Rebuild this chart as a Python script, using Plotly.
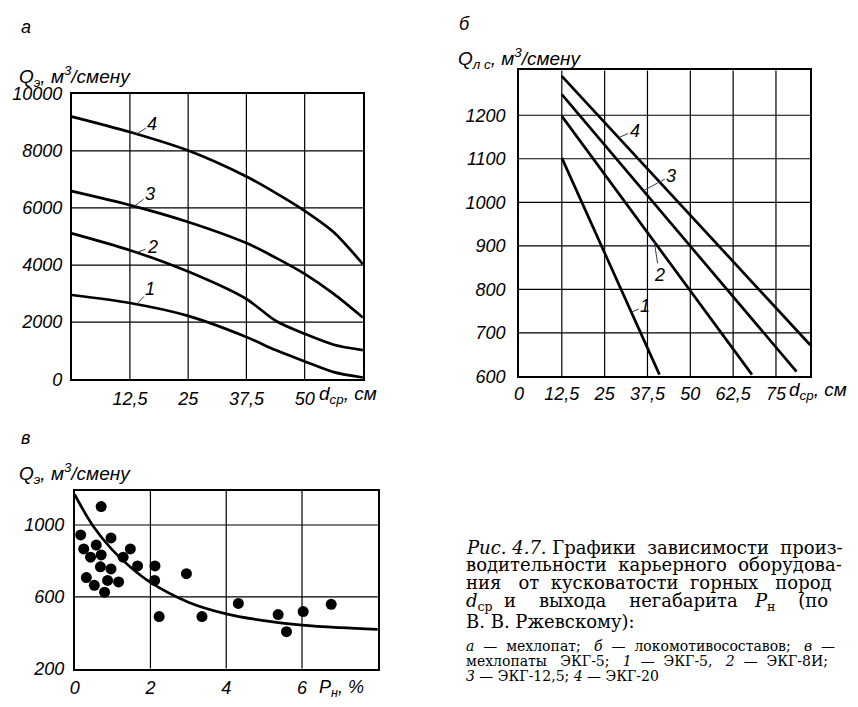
import numpy as np
import plotly.graph_objects as go

# the page adds an 8 px body margin, so the figure is 16 px smaller than the window
OFF = 8
W, H = 858 - 2 * OFF, 707 - 2 * OFF

# --- panel a: excavator output vs mean lump size ---
a_x = [0, 12.5, 25, 37.5, 43.75, 50, 56.25, 62.5]
a_q1 = [2950, 2670, 2220, 1480, 1020, 625, 250, 60]
a_q2 = [5110, 4520, 3770, 2810, 2050, 1590, 1210, 1020]
a_q3 = [6590, 6100, 5510, 4770, 4260, 3690, 2990, 2160]
a_q4 = [9200, 8660, 8010, 7100, 6530, 5900, 5150, 4030]
a_xticks = [12.5, 25, 37.5, 50]
a_xtext = ["12,5", "25", "37,5", "50"]
a_yticks = [0, 2000, 4000, 6000, 8000, 10000]
a_ytext = ["0", "2000", "4000", "6000", "8000", "10000"]

# --- panel b: train output (straight lines) ---
b_x_start = [12.5, 12.5, 12.5, 12.5]
b_x_end = [41.0, 68.0, 81.0, 85.0]
b_q_start = [1102, 1198, 1248, 1290]
b_q_end = [604, 604, 611, 672]
b_xticks = [0, 12.5, 25, 37.5, 50, 62.5, 75]
b_xtext = ["0", "12,5", "25", "37,5", "50", "62,5", "75"]
b_yticks = [600, 700, 800, 900, 1000, 1100, 1200]

# --- panel c: output vs oversize yield ---
c_pts_x = [0.70, 0.16, 0.24, 0.42, 0.57, 0.70, 0.68, 0.96, 0.96, 1.28, 1.47, 1.66,
           0.31, 0.52, 0.79, 0.87, 1.16, 2.12, 2.11, 2.23, 2.95, 3.36, 4.32, 5.37,
           5.59, 6.03, 6.77]
c_pts_q = [1103, 945, 867, 821, 888, 833, 767, 928, 755, 821, 867, 772,
           707, 664, 626, 691, 683, 772, 691, 490, 729, 490, 563, 501,
           406, 518, 558]
c_fit_x = [0, 0.5, 1, 1.5, 2, 3, 4, 5, 6, 7, 8]
c_fit_q = [1170, 990, 860, 760, 680, 570, 505, 467, 442, 428, 419]
c_xticks = [0, 2, 4, 6]
c_yticks = [200, 600, 1000]

SANS = "Liberation Sans"
SERIF = "DejaVu Serif"
tick_font = dict(family=SANS, size=18, style="italic", color="black")


def px(x):
    return (x - OFF) / W


def py(y):
    return 1 - (y - OFF) / H


def axis(**kw):
    base = dict(showline=True, mirror=True, linecolor="black", linewidth=1.5,
                showgrid=False, zeroline=False, ticks="", tickfont=tick_font,
                fixedrange=True)
    base.update(kw)
    return base


fig = go.Figure()
line = dict(color="black", width=2.7)

for q in [a_q1, a_q2, a_q3, a_q4]:
    fig.add_trace(go.Scatter(x=a_x, y=q, mode="lines", line=dict(line, shape="spline", smoothing=0.8),
                             xaxis="x", yaxis="y"))

for x0, x1, q0, q1 in zip(b_x_start, b_x_end, b_q_start, b_q_end):
    fig.add_trace(go.Scatter(x=[x0, x1], y=[q0, q1], mode="lines", line=line,
                             xaxis="x2", yaxis="y2"))

fig.add_trace(go.Scatter(x=c_fit_x, y=c_fit_q, mode="lines", line=dict(line, shape="spline"),
                         xaxis="x3", yaxis="y3"))
fig.add_trace(go.Scatter(x=c_pts_x, y=c_pts_q, mode="markers",
                         marker=dict(color="black", size=11), xaxis="x3", yaxis="y3"))

fig.update_layout(
    width=W, height=H, showlegend=False,
    margin=dict(l=0, r=0, t=0, b=0),
    paper_bgcolor="white", plot_bgcolor="white",
    xaxis=axis(domain=[px(67), px(360)], range=[0, 62.5], tickvals=a_xticks, ticktext=a_xtext,
               anchor="y", ticklabelstandoff=2),
    yaxis=axis(domain=[py(380), py(86)], range=[0, 10000], tickvals=a_yticks, ticktext=a_ytext,
               anchor="x", ticklabelstandoff=4),
    xaxis2=axis(domain=[px(517), px(810)], range=[0, 85], tickvals=b_xticks, ticktext=b_xtext,
                anchor="y2", ticklabelstandoff=0),
    yaxis2=axis(domain=[py(377), py(62)], range=[600, 1303], tickvals=b_yticks, anchor="x2",
                ticklabelstandoff=8),
    xaxis3=axis(domain=[px(70), px(375)], range=[0, 8], tickvals=c_xticks, anchor="y3",
                ticklabelstandoff=2),
    yaxis3=axis(domain=[py(678), py(495)], range=[200, 1190], tickvals=c_yticks, anchor="x3",
                ticklabelstandoff=5),
)

# grid lines drawn on each panel's own axes
shapes = []
grid = dict(color="black", width=1.2)
for xa, ya, xs, ys in [("x", "y", a_xticks, a_yticks[1:-1]),
                       ("x2", "y2", b_xticks[1:], b_yticks[1:]),
                       ("x3", "y3", c_xticks[1:], c_yticks[1:])]:
    for v in xs:
        shapes.append(dict(type="line", xref=xa, yref=ya + " domain", x0=v, x1=v, y0=0, y1=1,
                           line=grid, layer="below"))
    for v in ys:
        shapes.append(dict(type="line", xref=xa + " domain", yref=ya, x0=0, x1=1, y0=v, y1=v,
                           line=grid, layer="below"))

ann = []
lab_font = dict(family=SANS, size=18, style="italic", color="black")

# curve numbers with leader lines
a_labels = [(a_q4, 13.9, "4", 16, -10), (a_q3, 13.4, "3", 16, -12),
            (a_q2, 13.9, "2", 16, -6), (a_q1, 13.9, "1", 14, -15)]
for q, xv, t, dx, dy in a_labels:
    ann.append(dict(x=xv, y=float(np.interp(xv, a_x, q)), xref="x", yref="y", text=t,
                    showarrow=True, arrowhead=0, arrowwidth=1, ax=dx, ay=dy, font=lab_font))

b_labels = [(3, 29.1, "4", 16, -7), (2, 36.3, "3", 28, -15), (1, 39.5, "2", 5, 33), (0, 32.8, "1", 14, -6)]
for i, xv, t, dx, dy in b_labels:
    yv = float(np.interp(xv, [b_x_start[i], b_x_end[i]], [b_q_start[i], b_q_end[i]]))
    ann.append(dict(x=xv, y=yv, xref="x2", yref="y2", text=t, showarrow=True, arrowhead=0,
                    arrowwidth=1, ax=dx, ay=dy, font=lab_font))


def note(x, y, text, size=16, family=SANS, style="italic", anchor="left"):
    ann.append(dict(x=px(x), y=py(y), xref="paper", yref="paper", text=text, showarrow=False,
                    xanchor=anchor, yanchor="middle",
                    font=dict(family=family, size=size, style=style, color="black")))


def spaced(words, gaps):
    # join words with a given number of non-breaking spaces (poor man's justification)
    out = words[0]
    for w, g in zip(words[1:], gaps):
        out += "\u00a0" * g + w
    return out


# panel letters and axis titles
note(14, 17, "а", 18)
note(455, 14, "б", 18)
note(14, 441, "в", 18)
note(12, 68, "Q<sub>э</sub>, м<sup>3</sup>/смену", 19)
note(454, 50, "Q<sub>л с</sub>, м<sup>3</sup>/смену", 19)
note(12, 477, "Q<sub>э</sub>, м<sup>3</sup>/смену", 19)
note(314, 396, "d<sub>ср</sub>, см", 19)
note(787, 392, "d<sub>ср</sub>, см", 19)
note(314, 698, "P<sub>н</sub>, %", 18)

# caption
cap = [
    (553, spaced(["<i>Рис. 4.7.</i>", "Графики", "зависимости", "произ-"], [1, 2, 2])),
    (571, spaced(["водительности", "карьерного", "оборудова-"], [2, 2])),
    (589, spaced(["ния", "от", "кусковатости", "горных", "пород"], [3, 2, 2, 3])),
    (609, spaced(["<i>d</i><sub>ср</sub>", "и", "выхода", "негабарита", "<i>P</i><sub>н</sub>", "(по"],
                 [2, 4, 4, 3, 4])),
    (629, "В. В. Ржевскому):"),
]
for y, t in cap:
    note(462, y, t, 18, SERIF, "normal")
small = [
    (655, spaced(["<i>а</i>", "—", "мехлопат;", "<i>б</i>", "—", "локомотивосоставов;", "<i>в</i>", "—"],
                 [2, 2, 3, 2, 2, 3, 2])),
    (670, spaced(["мехлопаты", "ЭКГ-5;", "<i>1</i>", "—", "ЭКГ-5,", "<i>2</i>", "—", "ЭКГ-8И;"],
                 [3, 3, 2, 2, 3, 2, 2])),
    (686, "<i>3</i> — ЭКГ-12,5; <i>4</i> — ЭКГ-20"),
]
for y, t in small:
    note(462, y, t, 14, SERIF, "normal")

fig.update_layout(annotations=ann, shapes=shapes)
fig.write_html("out.html")
